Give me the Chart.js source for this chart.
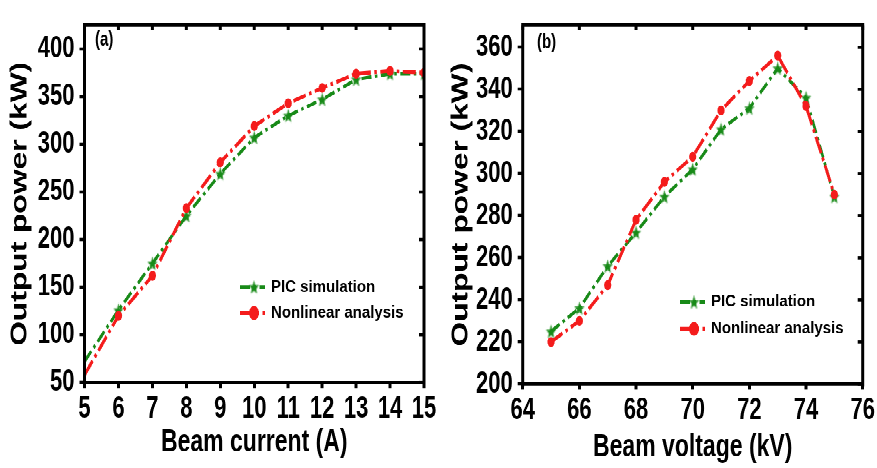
<!DOCTYPE html>
<html>
<head>
<meta charset="utf-8">
<script src="https://cdn.jsdelivr.net/npm/chart.js@4/dist/chart.umd.min.js"></script>
<style>
html,body{margin:0;padding:0;background:#fff;overflow:hidden;width:877px;height:468px}
#wrap{position:absolute;left:0;top:0;width:877px;height:339px;transform:scaleY(1.38053);transform-origin:0 0}
#ca{position:absolute;left:0;top:0}
#cb{position:absolute;left:440px;top:0}
</style>
</head>
<body>
<div id="wrap">
<canvas id="ca" width="440" height="339"></canvas>
<canvas id="cb" width="437" height="339"></canvas>
</div>
<script>
// ---- data ----
const seriesNames = ['PIC simulation', 'Nonlinear analysis'];
const currentA   = [5, 6, 7, 8, 9, 10, 11, 12, 13, 14, 15];
const picA       = [72, 126, 175, 225, 269, 307, 330, 347, 368, 374, 374];
const nonlinearA = [58, 120, 162, 233, 281, 319, 343, 359, 374, 377, 375];
const voltageB   = [65, 66, 67, 68, 69, 70, 71, 72, 73, 74, 75];
const picB       = [225, 236, 256, 272, 289, 302, 321, 331, 350, 336, 289];
const nonlinearB = [220, 230, 247, 278, 296, 308, 330, 344, 356, 332, 290];
const xTicksA = [5, 6, 7, 8, 9, 10, 11, 12, 13, 14, 15];
const yTicksA = [50, 100, 150, 200, 250, 300, 350, 400];
const xTicksB = [64, 66, 68, 70, 72, 74, 76];
const yTicksB = [200, 220, 240, 260, 280, 300, 320, 340, 360];

// ---- styling ----
const GREEN = '#188a18';
const RED = '#f41c1c';
const FONT = '"Liberation Sans", Arial, Helvetica, sans-serif';

function makeStar(color) {
  const c = document.createElement('canvas');
  c.width = 11; c.height = 11;
  const g = c.getContext('2d');
  g.fillStyle = color;
  g.beginPath();
  for (let i = 0; i < 10; i++) {
    const r = i % 2 ? 2.3 : 5.4;
    const a = -Math.PI / 2 + i * Math.PI / 5;
    g.lineTo(5.5 + r * Math.cos(a), 6 + r * Math.sin(a));
  }
  g.closePath();
  g.fill();
  return c;
}
const starImg = makeStar(GREEN);

function line(ctx, x1, y1, x2, y2) {
  ctx.beginPath(); ctx.moveTo(x1, y1); ctx.lineTo(x2, y2); ctx.stroke();
}

const framePlugin = {
  id: 'frame',
  afterDraw(chart, args, opts) {
    const {ctx, chartArea: a} = chart;
    const xs = chart.scales.x, ys = chart.scales.y;
    ctx.save();
    ctx.strokeStyle = '#000';
    ctx.setLineDash([]);
    ctx.lineCap = 'square';
    ctx.lineWidth = 3;
    line(ctx, a.left, a.top, a.left, a.bottom);
    line(ctx, a.right, a.top, a.right, a.bottom);
    ctx.lineWidth = 2.3;
    line(ctx, a.left, a.top, a.right, a.top);
    line(ctx, a.left, a.bottom, a.right, a.bottom);
    ctx.lineCap = 'butt';
    ctx.lineWidth = 3;
    xs.ticks.forEach(t => { const px = xs.getPixelForValue(t.value); line(ctx, px, a.top, px, a.top + 3.6); });
    ctx.lineWidth = 2.3;
    ys.ticks.forEach(t => { const py = ys.getPixelForValue(t.value); line(ctx, a.right - 5, py, a.right, py); });

    // panel tag
    ctx.fillStyle = '#000';
    ctx.font = 'bold 15px ' + FONT;
    ctx.textBaseline = 'middle';
    ctx.textAlign = 'left';
    ctx.fillText(opts.tag, opts.tagX, opts.tagY);

    // legend
    chart.data.datasets.forEach((ds, i) => {
      const y = opts.legendY[i];
      ctx.save();
      ctx.strokeStyle = ds.borderColor;
      ctx.fillStyle = ds.borderColor;
      ctx.lineWidth = ds.borderWidth;
      ctx.setLineDash(ds.borderDash);
      ctx.lineCap = 'butt';
      line(ctx, opts.legendX, y, opts.legendX + 25, y);
      ctx.setLineDash([]);
      Chart.helpers.drawPoint(ctx, {pointStyle: ds.pointStyle, radius: ds.legendRadius, rotation: 0, borderWidth: 1}, opts.legendX + 14, y);
      ctx.restore();
      ctx.save();
      ctx.fillStyle = '#000';
      ctx.font = 'bold 15px ' + FONT;
      ctx.textBaseline = 'middle';
      ctx.translate(opts.legendX + 31, y);
      ctx.scale(1, 0.82);
      ctx.fillText(ds.label, 0, 0);
      ctx.restore();
    });
    ctx.restore();
  }
};

function makeChart(id, xv, s1, s2, xt, yt, cfg) {
  const tickFont = {family: FONT, size: 22, weight: 'bold'};
  const titleFont = {family: FONT, size: 23, weight: 'bold'};
  return new Chart(document.getElementById(id), {
    type: 'line',
    data: {
      datasets: [
        {
          label: seriesNames[0],
          data: xv.map((x, i) => ({x: x, y: s1[i]})),
          borderColor: GREEN, backgroundColor: GREEN,
          borderWidth: 2.6, borderDash: [10, 3.5, 2.5, 3.5],
          pointStyle: starImg, legendRadius: 5,
          pointRadius: c => (cfg.hideFirst && c.dataIndex === 0) ? 0 : 5,
          order: 1, tension: 0
        },
        {
          label: seriesNames[1],
          data: xv.map((x, i) => ({x: x, y: s2[i]})),
          borderColor: RED, backgroundColor: RED,
          borderWidth: 2.8, borderDash: [13, 3.5, 2.5, 3.5],
          pointStyle: 'circle', legendRadius: 3.6,
          pointRadius: c => (cfg.hideFirst && c.dataIndex === 0) ? 0 : 3.6,
          pointBorderWidth: 0,
          order: 0, tension: 0
        }
      ]
    },
    options: {
      responsive: false,
      animation: false,
      devicePixelRatio: 2,
      layout: {padding: {top: cfg.padTop, right: cfg.padRight, left: 0, bottom: 0}},
      plugins: {
        legend: {display: false},
        tooltip: {enabled: false},
        frame: cfg.frame
      },
      scales: {
        x: {
          type: 'linear', min: cfg.xmin, max: cfg.xmax,
          afterBuildTicks: s => { s.ticks = xt.map(v => ({value: v})); },
          afterFit: s => { s.height = cfg.xHeight; },
          ticks: {font: tickFont, color: '#000', padding: 2, maxRotation: 0, autoSkip: false},
          grid: {drawOnChartArea: false, drawTicks: true, tickLength: 4, tickWidth: 3, tickColor: '#000'},
          border: {display: false},
          title: {display: true, text: cfg.xTitle, font: titleFont, color: '#000', padding: {top: 0, bottom: cfg.xTitlePad}}
        },
        y: {
          type: 'linear', min: cfg.ymin, max: cfg.ymax,
          afterBuildTicks: s => { s.ticks = yt.map(v => ({value: v})); },
          afterFit: s => { s.width = cfg.yWidth; },
          ticks: {font: tickFont, color: '#000', padding: 5, autoSkip: false},
          grid: {drawOnChartArea: false, drawTicks: true, tickLength: 5, tickWidth: 2.3, tickColor: '#000'},
          border: {display: false},
          title: {display: true, text: 'Output power (kW)', font: titleFont, color: '#000', padding: {top: cfg.yTitlePad, bottom: 0}}
        }
      }
    },
    plugins: [framePlugin]
  });
}

makeChart('ca', currentA, picA, nonlinearA, xTicksA, yTicksA, {
  xmin: 5, xmax: 15, ymin: 50, ymax: 425,
  padTop: 7.6, padRight: 16, xHeight: 61.9, yWidth: 84.5,
  xTitle: 'Beam current (A)', xTitlePad: 4.3, yTitlePad: 6.3, hideFirst: true,
  frame: {tag: '(a)', tagX: 95, tagY: 29, legendX: 240, legendY: [207.9, 226.7]}
});
makeChart('cb', voltageB, picB, nonlinearB, xTicksB, yTicksB, {
  xmin: 64, xmax: 76, ymin: 200, ymax: 370.5,
  padTop: 8.0, padRight: 14.3, xHeight: 60.8, yWidth: 82.7,
  xTitle: 'Beam voltage (kV)', xTitlePad: 1.0, yTitlePad: 7.2, hideFirst: false,
  frame: {tag: '(b)', tagX: 97, tagY: 31.1, legendX: 240, legendY: [218.8, 238.3]}
});
</script>
</body>
</html>
